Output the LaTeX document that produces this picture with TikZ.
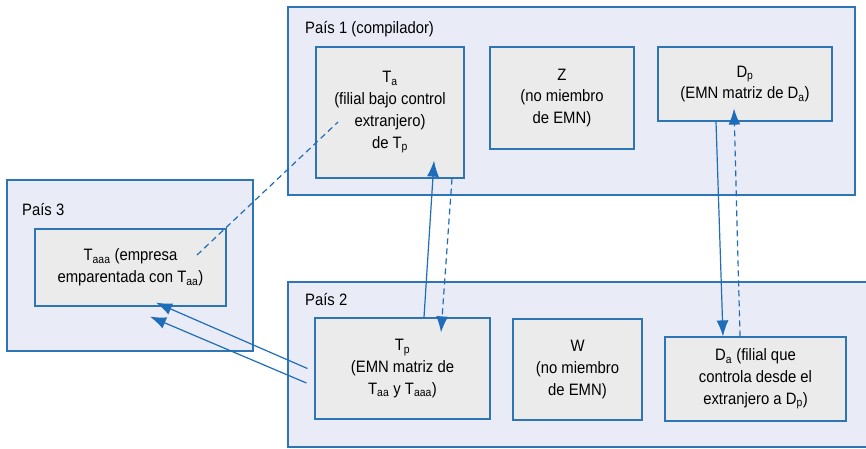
\documentclass[tikz,border=0pt]{standalone}
\usepackage{fontspec}
\setmainfont[FakeStretch=0.9]{Liberation Sans}
\usetikzlibrary{arrows.meta}

\definecolor{boxblue}{HTML}{2E75B6}
\definecolor{countryfill}{HTML}{E9ECF7}
\definecolor{entityfill}{HTML}{EBEBEB}
\definecolor{linkblue}{HTML}{1F6CB8}

\newcommand{\sub}[1]{\textsubscript{#1}}

\begin{document}
\begin{tikzpicture}
		[x=1pt,y=-1pt,
		 country/.style= {draw=boxblue,line width=1.2pt,fill=countryfill,inner sep=0pt},
		 entity/.style= {draw=boxblue,line width=1.2pt,fill=entityfill,align=center,inner sep=2pt,
		                 font=\fontsize{16.5}{21.8}\selectfont},
		 caption/.style= {anchor=west,inner sep=0pt,font=\fontsize{16.5}{18}\selectfont},
		 link/.style= {draw=linkblue,line width=1.2pt,-{Latex[length=16pt,width=12pt]}},
		 tie/.style= {link,dash pattern=on 6pt off 4pt}]

		\useasboundingbox (0,0) rectangle (866,449);

		% countries
		\node[country,minimum width=567,minimum height=188] (c1) at (571.5,101) {};
		\node[country,minimum width=246,minimum height=171] (c3) at (130,265.5) {};
		\node[country,minimum width=584,minimum height=165] (c2) at (580,364.5) {};

		\node[caption] (l1) at (305,29) {País 1 (compilador)};
		\node[caption] (l2) at (305,300) {País 2};
		\node[caption] (l3) at (22,210) {País 3};

		% entities
		\node[entity,minimum width=148,minimum height=131] (ta) at (390,112.5)
			{T\sub{a}\\(filial bajo control\\extranjero)\\de T\sub{p}};
		\node[entity,minimum width=144,minimum height=102] (z) at (562,98)
			{Z\\(no miembro\\de EMN)};
		\node[entity,minimum width=174,minimum height=74] (dp) at (745,84)
			{D\sub{p}\\(EMN matriz de D\sub{a})};
		\node[entity,minimum width=191,minimum height=77] (taaa) at (130.5,267.5)
			{T\sub{aaa} (empresa\\emparentada con T\sub{aa})};
		\node[entity,minimum width=175,minimum height=101] (tp) at (402.5,368.5)
			{T\sub{p}\\(EMN matriz de\\T\sub{aa} y T\sub{aaa})};
		\node[entity,minimum width=129,minimum height=101] (w) at (577.5,369.5)
			{W\\(no miembro\\de EMN)};
		\node[entity,minimum width=181,minimum height=84] (da) at (755.5,379)
			{D\sub{a} (filial que\\controla desde el\\extranjero a D\sub{p})};

		% connectors
		\draw[link] ([xshift=21.5pt]tp.north) -- ([xshift=44pt,yshift=18pt]ta.south);
		\draw[tie] ([xshift=62pt]ta.south) -- ([xshift=38.5pt,yshift=-15pt]tp.north);
		\draw[link] ([xshift=-29pt]dp.south) -- ([xshift=-32.5pt]da.north);
		\draw[tie] ([xshift=-15.5pt]da.north) -- ([xshift=-11pt,yshift=13pt]dp.south);
		\draw[tie,-] ([xshift=66.5pt,yshift=12.5pt]taaa.center) -- ([xshift=-52pt,yshift=-9.5pt]ta.center);
		\draw[link] ([xshift=-7pt]tp.west) -- ([xshift=25.5pt,yshift=4pt]taaa.south);
		\draw[link] ([xshift=-8pt,yshift=-14.5pt]tp.west) -- ([xshift=19.5pt,yshift=-10pt]taaa.south);

	\end{tikzpicture}
\end{document}
